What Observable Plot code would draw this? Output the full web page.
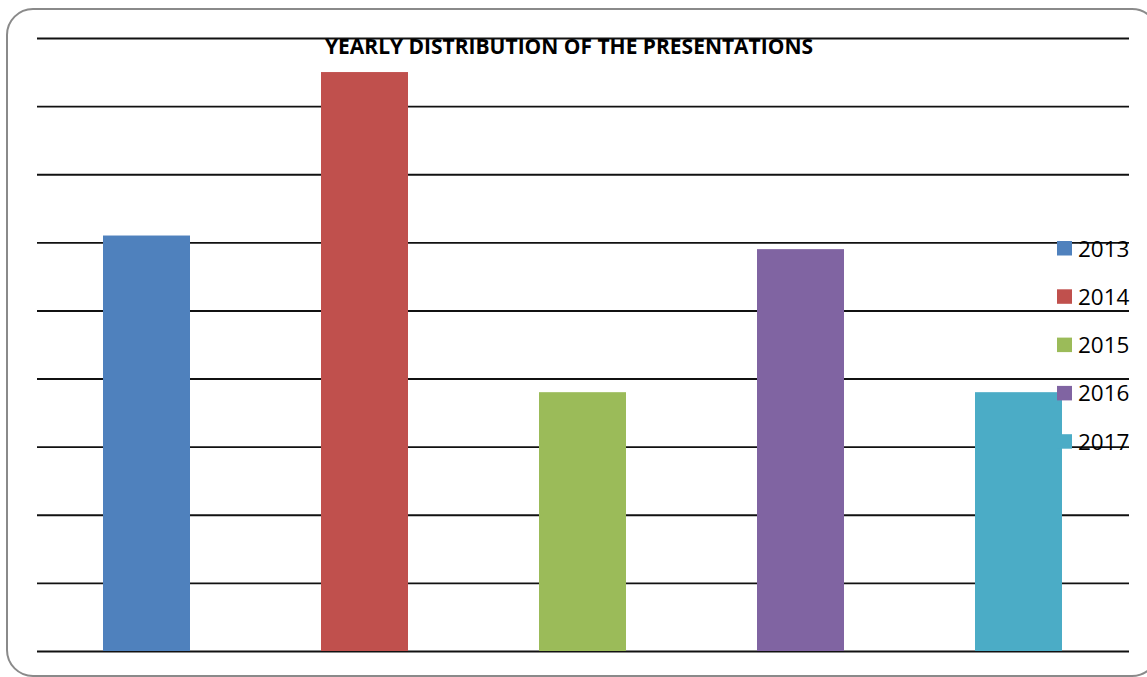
<!DOCTYPE html>
<html>
<head>
<meta charset="utf-8">
<script src="https://cdn.jsdelivr.net/npm/d3@7"></script>
<script src="https://cdn.jsdelivr.net/npm/@observablehq/plot@0.6"></script>
<style>
  html, body { margin: 0; padding: 0; background: #fff; overflow: hidden; }
  #chart svg { display: block; overflow: hidden; }
</style>
</head>
<body>
<div id="chart"></div>
<script>
// Presentations per year
const years = ["2013", "2014", "2015", "2016", "2017"];
const counts = [6.1, 8.5, 3.8, 5.9, 3.8];
const colors = ["#4F81BD", "#C0504D", "#9BBB59", "#8064A2", "#4BACC6"];
const gridValues = [0, 1, 2, 3, 4, 5, 6, 7, 8, 9];
const title = "YEARLY DISTRIBUTION OF THE PRESENTATIONS";

const rows = years.map((year, i) => ({year, count: counts[i]}));

const W = 1147, H = 677;

const plot = Plot.plot({
  width: W,
  height: H,
  marginLeft: 37,
  marginRight: 18,
  marginTop: 38,
  marginBottom: 26,
  style: {background: "#fff", fontFamily: "'Open Sans', sans-serif"},
  x: {domain: years, paddingInner: 0.6, paddingOuter: 0.3, axis: null},
  y: {domain: [0, 9], axis: null},
  color: {domain: years, range: colors},
  marks: [
    Plot.ruleY(gridValues, {stroke: "#111", strokeWidth: 1.9}),
    Plot.barY(rows, {x: "year", y: "count", fill: "year"})
  ]
});

document.getElementById("chart").appendChild(plot);

const svg = d3.select(plot);
const color = plot.scale("color");

// Rounded outer frame
svg.append("rect")
  .attr("x", 7).attr("y", 9)
  .attr("width", 1151).attr("height", 667)
  .attr("rx", 26).attr("ry", 26)
  .attr("fill", "none")
  .attr("stroke", "#8a8a8a")
  .attr("stroke-width", 2);

// Title
svg.append("text")
  .attr("x", 325).attr("y", 54)
  .attr("text-anchor", "start")
  .attr("textLength", 488)
  .attr("lengthAdjust", "spacingAndGlyphs")
  .attr("font-family", "'Open Sans', sans-serif")
  .attr("font-weight", "bold")
  .attr("font-size", 21.5)
  .attr("fill", "#000")
  .text(title);

// Legend
const legend = svg.append("g").attr("transform", "translate(1057,241)");
years.forEach((year, i) => {
  const g = legend.append("g").attr("transform", `translate(0,${i * 48.3})`);
  g.append("rect")
    .attr("width", 15).attr("height", 14.5)
    .attr("fill", color.apply(year));
  g.append("text")
    .attr("x", 21).attr("y", 15.5)
    .attr("text-anchor", "start")
    .attr("font-family", "'Open Sans', sans-serif")
    .attr("font-size", 22.5)
    .attr("fill", "#000")
    .text(year);
});
</script>
</body>
</html>
